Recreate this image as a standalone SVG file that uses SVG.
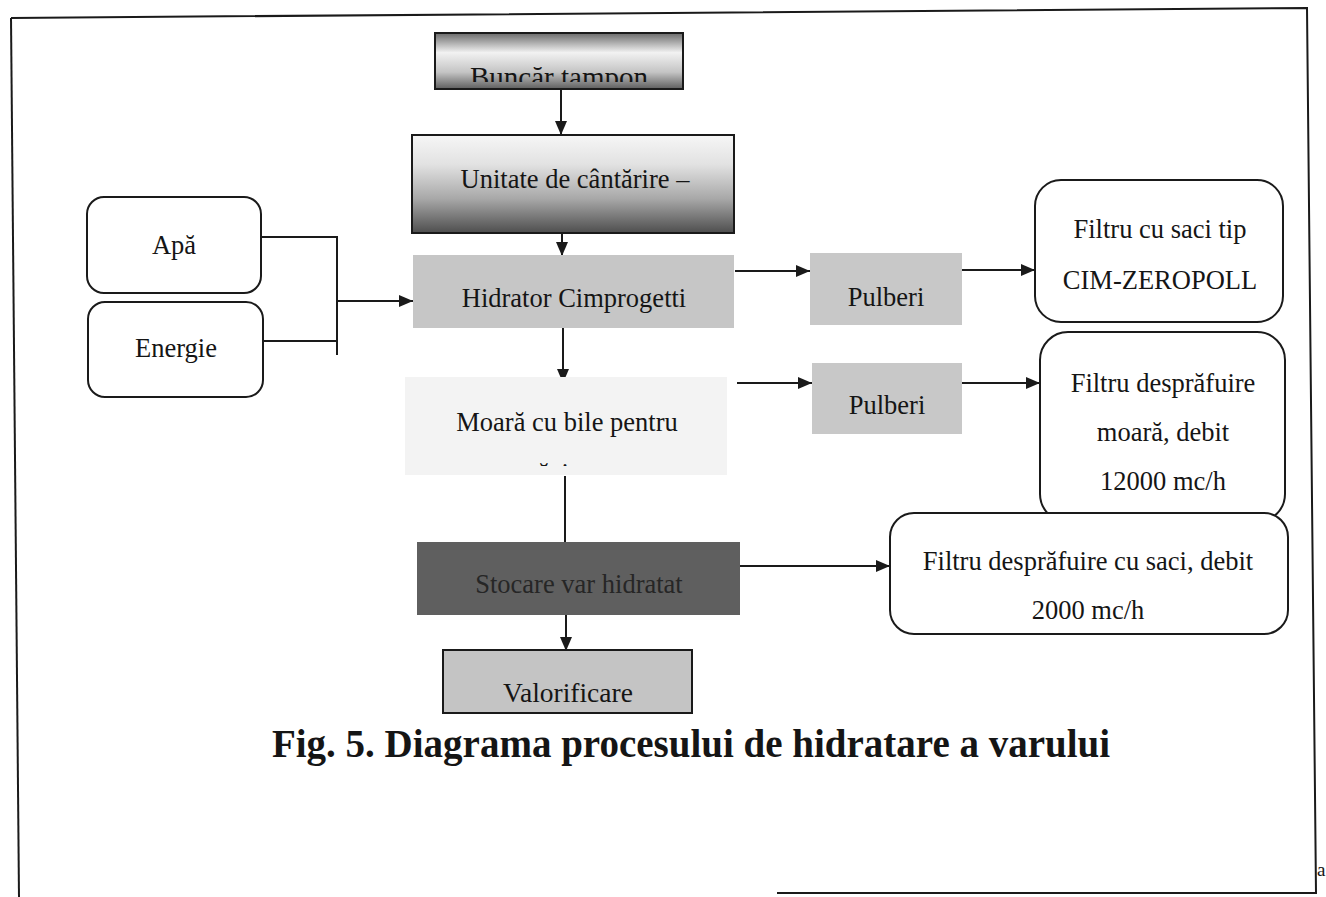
<svg xmlns="http://www.w3.org/2000/svg" width="1326" height="897" viewBox="0 0 1326 897">
<style>
.t{font-family:"Liberation Serif","Times New Roman",serif;font-size:26.5px;fill:#151515;text-anchor:middle}
.title{font-family:"Liberation Serif","Times New Roman",serif;font-size:39px;font-weight:bold;fill:#151515;text-anchor:middle}
.rb{fill:#ffffff;stroke:#1a1a1a;stroke-width:2}
.c{fill:none;stroke:#1a1a1a;stroke-width:2}
.frame{fill:none;stroke:#1a1a1a;stroke-width:2}
</style>
<defs>
<marker id="arr" markerUnits="userSpaceOnUse" markerWidth="15" markerHeight="12" refX="14" refY="6" orient="auto">
<path d="M0,0 L14,6 L0,12 z" fill="#1a1a1a"/>
</marker>
<linearGradient id="gBuncar" x1="0" y1="0" x2="0" y2="1">
<stop offset="0" stop-color="#6a6a6a"/>
<stop offset="0.35" stop-color="#f2f2f2"/>
<stop offset="0.7" stop-color="#c4c4c4"/>
<stop offset="1" stop-color="#5e5e5e"/>
</linearGradient>
<linearGradient id="gUnit" x1="0" y1="0" x2="0" y2="1">
<stop offset="0" stop-color="#f6f6f6"/>
<stop offset="0.3" stop-color="#e2e2e2"/>
<stop offset="0.65" stop-color="#a8a8a8"/>
<stop offset="1" stop-color="#4e4e4e"/>
</linearGradient>
<clipPath id="clipBuncar"><rect x="436" y="34" width="246" height="48"/></clipPath>
<clipPath id="clipMoara"><rect x="405" y="440" width="322" height="26"/></clipPath>
</defs>

<g id="frame">
<path class="frame" d="M11,18 L1307,8 L1316,893 L777,893"/>
<path class="frame" d="M11,18 L19,897"/>
<text x="1317" y="876" font-family="Liberation Serif, serif" font-size="19" fill="#151515">a</text>
</g>

<g id="connectors">
<path class="c" d="M561,90 V135" marker-end="url(#arr)"/>
<path class="c" d="M562,215 V256" marker-end="url(#arr)"/>
<path class="c" d="M261,237 H337 V355"/>
<path class="c" d="M263,341 H337"/>
<path class="c" d="M337,301 H413" marker-end="url(#arr)"/>
<path class="c" d="M563,316 V383" marker-end="url(#arr)"/>
<path class="c" d="M565,476 V543"/>
<path class="c" d="M566,600 V651" marker-end="url(#arr)"/>
<path class="c" d="M735,271 H810" marker-end="url(#arr)"/>
<path class="c" d="M962,270 H1035" marker-end="url(#arr)"/>
<path class="c" d="M737,383 H812" marker-end="url(#arr)"/>
<path class="c" d="M962,383 H1040" marker-end="url(#arr)"/>
<path class="c" d="M740,566 H890" marker-end="url(#arr)"/>
</g>

<g id="buncar">
<rect x="435" y="33" width="248" height="56" fill="url(#gBuncar)" stroke="#1a1a1a" stroke-width="2"/>
<text class="t" x="559" y="87" clip-path="url(#clipBuncar)" style="font-size:29px">Buncăr tampon</text>
</g>

<g id="unitate">
<rect x="412" y="135" width="322" height="98" fill="url(#gUnit)" stroke="#1a1a1a" stroke-width="2"/>
<text class="t" x="575" y="188">Unitate de cântărire –</text>
</g>

<g id="hidrator">
<rect x="413" y="255" width="321" height="73" fill="#c6c6c6"/>
<text class="t" x="574" y="307">Hidrator Cimprogetti</text>
</g>

<g id="moara">
<rect x="405" y="377" width="322" height="98" fill="#f3f3f3"/>
<text class="t" x="567" y="431">Moară cu bile pentru</text>
<text class="t" x="566" y="482" clip-path="url(#clipMoara)">măcinare</text>
</g>

<g id="stocare">
<rect x="417" y="542" width="323" height="73" fill="#5f5f5f"/>
<text class="t" x="579" y="593" style="fill:#262626">Stocare var hidratat</text>
</g>

<g id="valorificare">
<rect x="443" y="650" width="249" height="63" fill="#c4c4c4" stroke="#1a1a1a" stroke-width="2"/>
<text class="t" x="568" y="702" style="font-size:27.5px">Valorificare</text>
</g>

<g id="apa">
<rect class="rb" x="87" y="197" width="174" height="96" rx="17"/>
<text class="t" x="174" y="254">Apă</text>
</g>

<g id="energie">
<rect class="rb" x="88" y="302" width="175" height="95" rx="17"/>
<text class="t" x="176" y="357">Energie</text>
</g>

<g id="pulberi1">
<rect x="810" y="253" width="152" height="72" fill="#c8c8c8"/>
<text class="t" x="886" y="306">Pulberi</text>
</g>

<g id="pulberi2">
<rect x="812" y="363" width="150" height="71" fill="#c8c8c8"/>
<text class="t" x="887" y="414">Pulberi</text>
</g>

<g id="filtru1">
<rect class="rb" x="1035" y="180" width="248" height="142" rx="26"/>
<text class="t" x="1160" y="238">Filtru cu saci tip</text>
<text class="t" x="1160" y="289">CIM-ZEROPOLL</text>
</g>

<g id="filtru2">
<rect class="rb" x="1040" y="332" width="245" height="190" rx="28"/>
<text class="t" x="1163" y="392">Filtru desprăfuire</text>
<text class="t" x="1163" y="441">moară, debit</text>
<text class="t" x="1163" y="490">12000 mc/h</text>
</g>

<g id="filtru3">
<rect class="rb" x="890" y="513" width="398" height="121" rx="24"/>
<text class="t" x="1088" y="570">Filtru desprăfuire cu saci, debit</text>
<text class="t" x="1088" y="619">2000 mc/h</text>
</g>

<g id="caption">
<text class="title" x="691" y="757">Fig. 5. Diagrama procesului de hidratare a varului</text>
</g>
</svg>
